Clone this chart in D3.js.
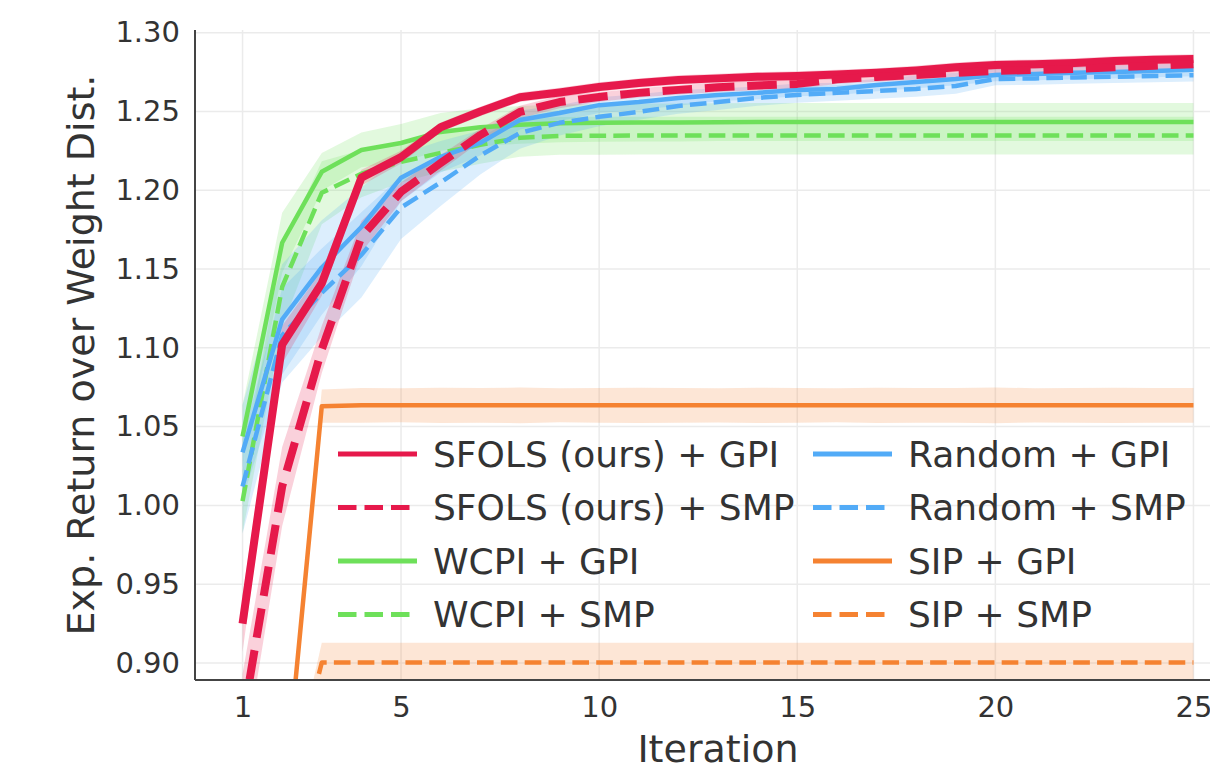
<!DOCTYPE html>
<html>
<head>
<meta charset="utf-8">
<script src="https://cdn.jsdelivr.net/npm/d3@7"></script>
<style>
  html, body { margin: 0; padding: 0; background: #fff; }
  svg { display: block; }
  text { font-family: "DejaVu Sans", sans-serif; fill: #333; }
</style>
</head>
<body>
<svg id="chart" width="1210" height="769"></svg>
<script>
// ---------------- data ----------------
const iterations = d3.range(1, 26);
const xTicks = [1, 5, 10, 15, 20, 25];
const yTicks = [0.90, 0.95, 1.00, 1.05, 1.10, 1.15, 1.20, 1.25, 1.30];

const sfolsGPI = [0.925, 1.102, 1.141, 1.208, 1.221, 1.240, 1.250, 1.259, 1.262, 1.2655, 1.268, 1.270, 1.271, 1.272, 1.2725, 1.2735, 1.2745, 1.276, 1.278, 1.2795, 1.280, 1.2808, 1.282, 1.2828, 1.2833];
const sfolsGPIStd = [0.018, 0.012, 0.008, 0.005, 0.004, 0.003, 0.003, 0.003, 0.003, 0.003, 0.003, 0.003, 0.003, 0.003, 0.003, 0.003, 0.003, 0.003, 0.003, 0.003, 0.003, 0.003, 0.003, 0.003, 0.003];

const sfolsSMP = [0.863, 1.012, 1.099, 1.1705, 1.199, 1.2173, 1.235, 1.2497, 1.256, 1.2592, 1.2618, 1.2637, 1.2653, 1.2665, 1.2675, 1.2704, 1.2719, 1.2732, 1.2745, 1.2757, 1.2764, 1.277, 1.278, 1.279, 1.280];
const sfolsSMPStd = [0.03, 0.025, 0.015, 0.01, 0.006, 0.005, 0.004, 0.004, 0.004, 0.003, 0.003, 0.003, 0.003, 0.003, 0.003, 0.003, 0.003, 0.003, 0.003, 0.003, 0.003, 0.003, 0.003, 0.003, 0.003];

const wcpiGPI = [1.0437, 1.1667, 1.2117, 1.2256, 1.230, 1.237, 1.240, 1.2415, 1.2425, 1.2428, 1.243, 1.243, 1.2432, 1.2433, 1.2433, 1.2433, 1.2433, 1.2433, 1.2433, 1.2433, 1.2433, 1.2433, 1.2433, 1.2433, 1.2433];
const wcpiGPIStd = [0.02, 0.019, 0.012, 0.011, 0.012, 0.012, 0.012, 0.012, 0.012, 0.012, 0.012, 0.012, 0.012, 0.012, 0.012, 0.012, 0.012, 0.012, 0.012, 0.012, 0.012, 0.012, 0.012, 0.012, 0.012];

const wcpiSMP = [1.0027, 1.1387, 1.1984, 1.2105, 1.218, 1.2237, 1.2288, 1.2333, 1.2345, 1.2346, 1.2347, 1.2347, 1.2347, 1.2347, 1.2347, 1.2347, 1.2347, 1.2347, 1.2347, 1.2347, 1.2347, 1.2347, 1.2347, 1.2347, 1.2347];
const wcpiSMPStd = [0.02, 0.025, 0.02, 0.015, 0.013, 0.012, 0.012, 0.012, 0.012, 0.012, 0.012, 0.012, 0.012, 0.012, 0.012, 0.012, 0.012, 0.012, 0.012, 0.012, 0.012, 0.012, 0.012, 0.012, 0.012];

const randomGPI = [1.0337, 1.118, 1.151, 1.1767, 1.208, 1.2212, 1.230, 1.2446, 1.249, 1.254, 1.256, 1.2586, 1.2605, 1.2618, 1.2637, 1.2643, 1.2668, 1.2687, 1.2706, 1.2732, 1.2738, 1.2745, 1.275, 1.2757, 1.2764];
const randomGPIStd = [0.03, 0.035, 0.03, 0.025, 0.015, 0.01, 0.008, 0.006, 0.005, 0.005, 0.005, 0.005, 0.004, 0.004, 0.004, 0.004, 0.004, 0.004, 0.004, 0.004, 0.004, 0.004, 0.004, 0.004, 0.004];

const randomSMP = [1.012, 1.108, 1.135, 1.159, 1.189, 1.205, 1.222, 1.2364, 1.2428, 1.2466, 1.2497, 1.2535, 1.256, 1.2586, 1.2605, 1.2618, 1.263, 1.2643, 1.2662, 1.2706, 1.271, 1.2716, 1.272, 1.2725, 1.273];
const randomSMPStd = [0.03, 0.03, 0.028, 0.027, 0.02, 0.015, 0.012, 0.01, 0.008, 0.006, 0.005, 0.005, 0.005, 0.005, 0.005, 0.005, 0.005, 0.005, 0.005, 0.004, 0.004, 0.004, 0.004, 0.004, 0.004];

const sipGPI = [0.80, 0.80, 1.0630, 1.0635, 1.0635, 1.0635, 1.0635, 1.0635, 1.0635, 1.0635, 1.0635, 1.0635, 1.0635, 1.0635, 1.0635, 1.0635, 1.0635, 1.0635, 1.0635, 1.0635, 1.0635, 1.0635, 1.0635, 1.0635, 1.0635];
const sipGPIStd = [0.002, 0.002, 0.0105, 0.011, 0.0108, 0.0112, 0.011, 0.0113, 0.0108, 0.011, 0.0112, 0.011, 0.0109, 0.0112, 0.011, 0.0108, 0.0112, 0.011, 0.011, 0.0113, 0.0109, 0.011, 0.0112, 0.011, 0.011];

const sipSMP = [0.80, 0.80, 0.9003, 0.9003, 0.9003, 0.9003, 0.9003, 0.9003, 0.9003, 0.9003, 0.9003, 0.9003, 0.9003, 0.9003, 0.9003, 0.9003, 0.9003, 0.9003, 0.9003, 0.9003, 0.9003, 0.9003, 0.9003, 0.9003, 0.9003];
const sipSMPStd = [0.002, 0.002, 0.0125, 0.0125, 0.0125, 0.0125, 0.0125, 0.0125, 0.0125, 0.0125, 0.0125, 0.0125, 0.0125, 0.0125, 0.0125, 0.0125, 0.0125, 0.0125, 0.0125, 0.0125, 0.0125, 0.0125, 0.0125, 0.0125, 0.0125];

const seriesNames = ["SFOLS (ours) + GPI", "SFOLS (ours) + SMP", "WCPI + GPI", "WCPI + SMP",
                     "Random + GPI", "Random + SMP", "SIP + GPI", "SIP + SMP"];

// ---------------- styles ----------------
const RED = "#e6194b", GREEN = "#6ee05a", BLUE = "#52abf7", ORANGE = "#f58231";
const series = [
  { name: seriesNames[0], values: sfolsGPI, std: sfolsGPIStd, color: RED, dashed: false, width: 8 },
  { name: seriesNames[1], values: sfolsSMP, std: sfolsSMPStd, color: RED, dashed: true, width: 8 },
  { name: seriesNames[2], values: wcpiGPI, std: wcpiGPIStd, color: GREEN, dashed: false, width: 4.5 },
  { name: seriesNames[3], values: wcpiSMP, std: wcpiSMPStd, color: GREEN, dashed: true, width: 4.5 },
  { name: seriesNames[4], values: randomGPI, std: randomGPIStd, color: BLUE, dashed: false, width: 4.5 },
  { name: seriesNames[5], values: randomSMP, std: randomSMPStd, color: BLUE, dashed: true, width: 4.5 },
  { name: seriesNames[6], values: sipGPI, std: sipGPIStd, color: ORANGE, dashed: false, width: 4.5 },
  { name: seriesNames[7], values: sipSMP, std: sipSMPStd, color: ORANGE, dashed: true, width: 4.5 },
];
const drawOrder = [6, 7, 2, 3, 4, 5, 0, 1];

// ---------------- layout ----------------
const svg = d3.select("#chart");
const L = 195, T = 30, R = 1241, B = 680;
const x = d3.scaleLinear().domain([-0.2, 26.2]).range([L, R]);
const y = d3.scaleLinear().domain([0.8892, 1.3017]).range([B, T]);

svg.append("defs").append("clipPath").attr("id", "plotclip")
  .append("rect").attr("x", L).attr("y", T).attr("width", R - L).attr("height", B - T);

// grid
const grid = svg.append("g");
grid.selectAll(".vg").data(xTicks).join("line")
  .attr("x1", d => x(d)).attr("x2", d => x(d)).attr("y1", T).attr("y2", B)
  .attr("stroke", "#ebebeb").attr("stroke-width", 1.5);
grid.selectAll(".hg").data(yTicks).join("line")
  .attr("x1", L).attr("x2", R).attr("y1", d => y(d)).attr("y2", d => y(d))
  .attr("stroke", "#ebebeb").attr("stroke-width", 1.5);

const plot = svg.append("g").attr("clip-path", "url(#plotclip)");

const area = (s) => d3.area()
  .x((d, i) => x(iterations[i]))
  .y0((d, i) => y(d - s.std[i]))
  .y1((d, i) => y(d + s.std[i]));
const line = d3.line().x((d, i) => x(iterations[i])).y(d => y(d));

// bands
drawOrder.forEach(k => {
  const s = series[k];
  plot.append("path").datum(s.values).attr("d", area(s))
    .attr("fill", s.color).attr("fill-opacity", 0.2).attr("stroke", "none");
});
// lines
drawOrder.forEach(k => {
  const s = series[k];
  plot.append("path").datum(s.values).attr("d", line)
    .attr("fill", "none").attr("stroke", s.color).attr("stroke-width", s.width)
    .attr("stroke-linejoin", "round")
    .attr("stroke-dasharray", s.dashed ? `${3.7 * s.width},${1.6 * s.width}` : null);
});

// axes spines
svg.append("line").attr("x1", L).attr("x2", L).attr("y1", T).attr("y2", B)
  .attr("stroke", "#444").attr("stroke-width", 2);
svg.append("line").attr("x1", L).attr("x2", R).attr("y1", B).attr("y2", B)
  .attr("stroke", "#444").attr("stroke-width", 2);

// tick labels (using d3 axes, with tick lines hidden)
const xAxis = svg.append("g").attr("transform", `translate(0,${B})`)
  .call(d3.axisBottom(x).tickValues(xTicks).tickSize(0).tickPadding(16).tickFormat(d3.format("d")));
const yAxis = svg.append("g").attr("transform", `translate(${L},0)`)
  .call(d3.axisLeft(y).tickValues(yTicks).tickSize(0).tickPadding(15).tickFormat(d3.format(".2f")));
[xAxis, yAxis].forEach(a => {
  a.select(".domain").remove();
  a.selectAll("text").attr("font-size", 29).attr("font-family", "DejaVu Sans").attr("fill", "#333");
});

// axis labels
svg.append("text").attr("x", (L + R) / 2).attr("y", 762)
  .attr("text-anchor", "middle").attr("font-size", 38).text("Iteration");
svg.append("text").attr("transform", `translate(94,${(T + B) / 2}) rotate(-90)`)
  .attr("text-anchor", "middle").attr("font-size", 38).text("Exp. Return over Weight Dist.");

// legend
const legend = svg.append("g");
const colX = [338, 813], rowY0 = 454, rowStep = 53.5;
series.forEach((s, i) => {
  const col = Math.floor(i / 4), row = i % 4;
  const yy = rowY0 + row * rowStep;
  const g = legend.append("g");
  g.append("line").attr("x1", colX[col]).attr("x2", colX[col] + 79).attr("y1", yy).attr("y2", yy)
    .attr("stroke", s.color).attr("stroke-width", 5)
    .attr("stroke-dasharray", s.dashed ? "18.5,8" : null);
  g.append("text").attr("x", colX[col] + 95).attr("y", yy).attr("dy", "0.36em")
    .attr("font-size", 36).text(s.name);
});
</script>
</body>
</html>
